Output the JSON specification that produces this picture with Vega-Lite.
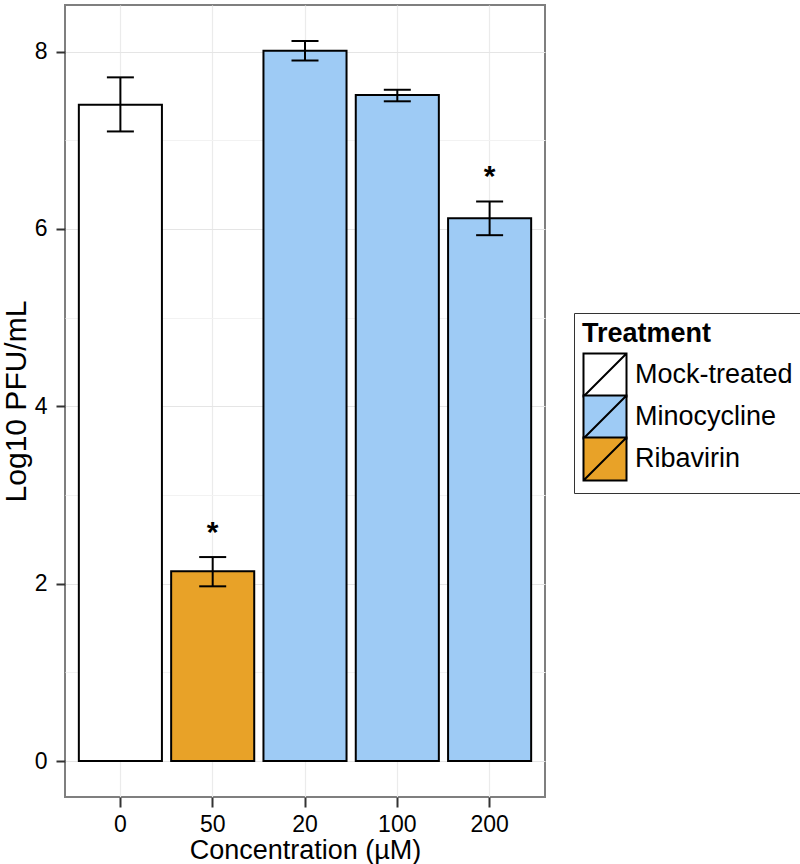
{
  "$schema": "https://vega.github.io/schema/vega-lite/v6.json",
  "width": 480,
  "height": 792,
  "autosize": "none",
  "padding": {"left": 65, "top": 5, "right": 255, "bottom": 67},
  "config": {
    "font": "Liberation Sans",
    "view": {"stroke": "#7F7F7F", "strokeWidth": 2},
    "background": "white"
  },
  "data": {
    "values": [
      {"conc": "0", "treatment": "Mock-treated", "value": 7.40, "lower": 7.10, "upper": 7.71, "sig": ""},
      {"conc": "50", "treatment": "Ribavirin", "value": 2.14, "lower": 1.97, "upper": 2.30, "sig": "*"},
      {"conc": "20", "treatment": "Minocycline", "value": 8.01, "lower": 7.90, "upper": 8.12, "sig": ""},
      {"conc": "100", "treatment": "Minocycline", "value": 7.51, "lower": 7.44, "upper": 7.57, "sig": ""},
      {"conc": "200", "treatment": "Minocycline", "value": 6.12, "lower": 5.93, "upper": 6.31, "sig": "*"}
    ]
  },
  "encoding": {
    "x": {
      "field": "conc",
      "type": "nominal",
      "sort": null,
      "scale": {"paddingInner": 0.1, "paddingOuter": 0.15},
      "axis": {
        "title": "Concentration (µM)",
        "titleFontSize": 27,
        "titleFontWeight": "normal",
        "titleColor": "black",
        "titleBaseline": "alphabetic",
        "titleY": 61,
        "labelFontSize": 23,
        "labelColor": "black",
        "labelAngle": 0,
        "labelPadding": 6,
        "tickSize": 10,
        "tickWidth": 2,
        "tickColor": "#333333",
        "domain": false,
        "grid": true,
        "gridColor": "#EBEBEB",
        "gridWidth": 1.2,
        "bandPosition": 0.5
      }
    }
  },
  "layer": [
    {
      "mark": {"type": "bar", "stroke": "black", "strokeWidth": 2},
      "encoding": {
        "y": {
          "field": "value",
          "type": "quantitative",
          "scale": {"domain": [-0.406, 8.526], "nice": false, "zero": false},
          "axis": {
            "title": "Log10 PFU/mL",
            "titleFontSize": 30,
            "titleFontWeight": "normal",
            "titleColor": "black",
            "titleBaseline": "alphabetic",
            "titleX": -40,
            "titleY": 396,
            "values": [0, 1, 2, 3, 4, 5, 6, 7, 8],
            "format": "d",
            "labelExpr": "datum.value % 2 === 0 ? datum.label : ''",
            "labelFontSize": 23,
            "labelColor": "black",
            "labelPadding": 9,
            "tickSize": 9,
            "tickWidth": 2,
            "tickColor": "#333333",
            "tickOpacity": {"condition": {"test": "datum.value % 2 === 0", "value": 1}, "value": 0},
            "domain": false,
            "grid": true,
            "gridColor": {"condition": {"test": "datum.value % 2 === 0", "value": "#E5E5E5"}, "value": "#F2F2F2"},
            "gridWidth": 1.2
          }
        },
        "fill": {
          "field": "treatment",
          "type": "nominal",
          "scale": {
            "domain": ["Mock-treated", "Minocycline", "Ribavirin"],
            "range": ["#FFFFFF", "#9ECBF5", "#E8A228"]
          },
          "legend": {
            "orient": "none",
            "legendX": 509,
            "legendY": 308,
            "title": "Treatment",
            "titleFontSize": 27,
            "titleFontWeight": "bold",
            "titleColor": "black",
            "titlePadding": 4,
            "labelFontSize": 27,
            "labelColor": "black",
            "labelOffset": 7,
            "symbolType": "M-1,-1H1V1H-1Z M-1,1L1,-1",
            "symbolSize": 1850,
            "symbolStrokeColor": "black",
            "symbolStrokeWidth": 2,
            "symbolOpacity": 1,
            "gridAlign": "none",
            "rowPadding": -10,
            "padding": 8,
            "strokeColor": "#333333"
          }
        }
      }
    },
    {
      "mark": {"type": "rule", "color": "black", "strokeWidth": 2},
      "encoding": {
        "y": {"field": "lower", "type": "quantitative"},
        "y2": {"field": "upper"}
      }
    },
    {
      "mark": {"type": "tick", "color": "black", "thickness": 2, "size": 27, "opacity": 1},
      "encoding": {
        "y": {"field": "lower", "type": "quantitative"}
      }
    },
    {
      "mark": {"type": "tick", "color": "black", "thickness": 2, "size": 27, "opacity": 1},
      "encoding": {
        "y": {"field": "upper", "type": "quantitative"}
      }
    },
    {
      "mark": {"type": "text", "fontSize": 30, "fontWeight": "bold", "color": "black", "dy": -15, "baseline": "alphabetic"},
      "encoding": {
        "y": {"field": "upper", "type": "quantitative"},
        "text": {"field": "sig"}
      }
    }
  ]
}
